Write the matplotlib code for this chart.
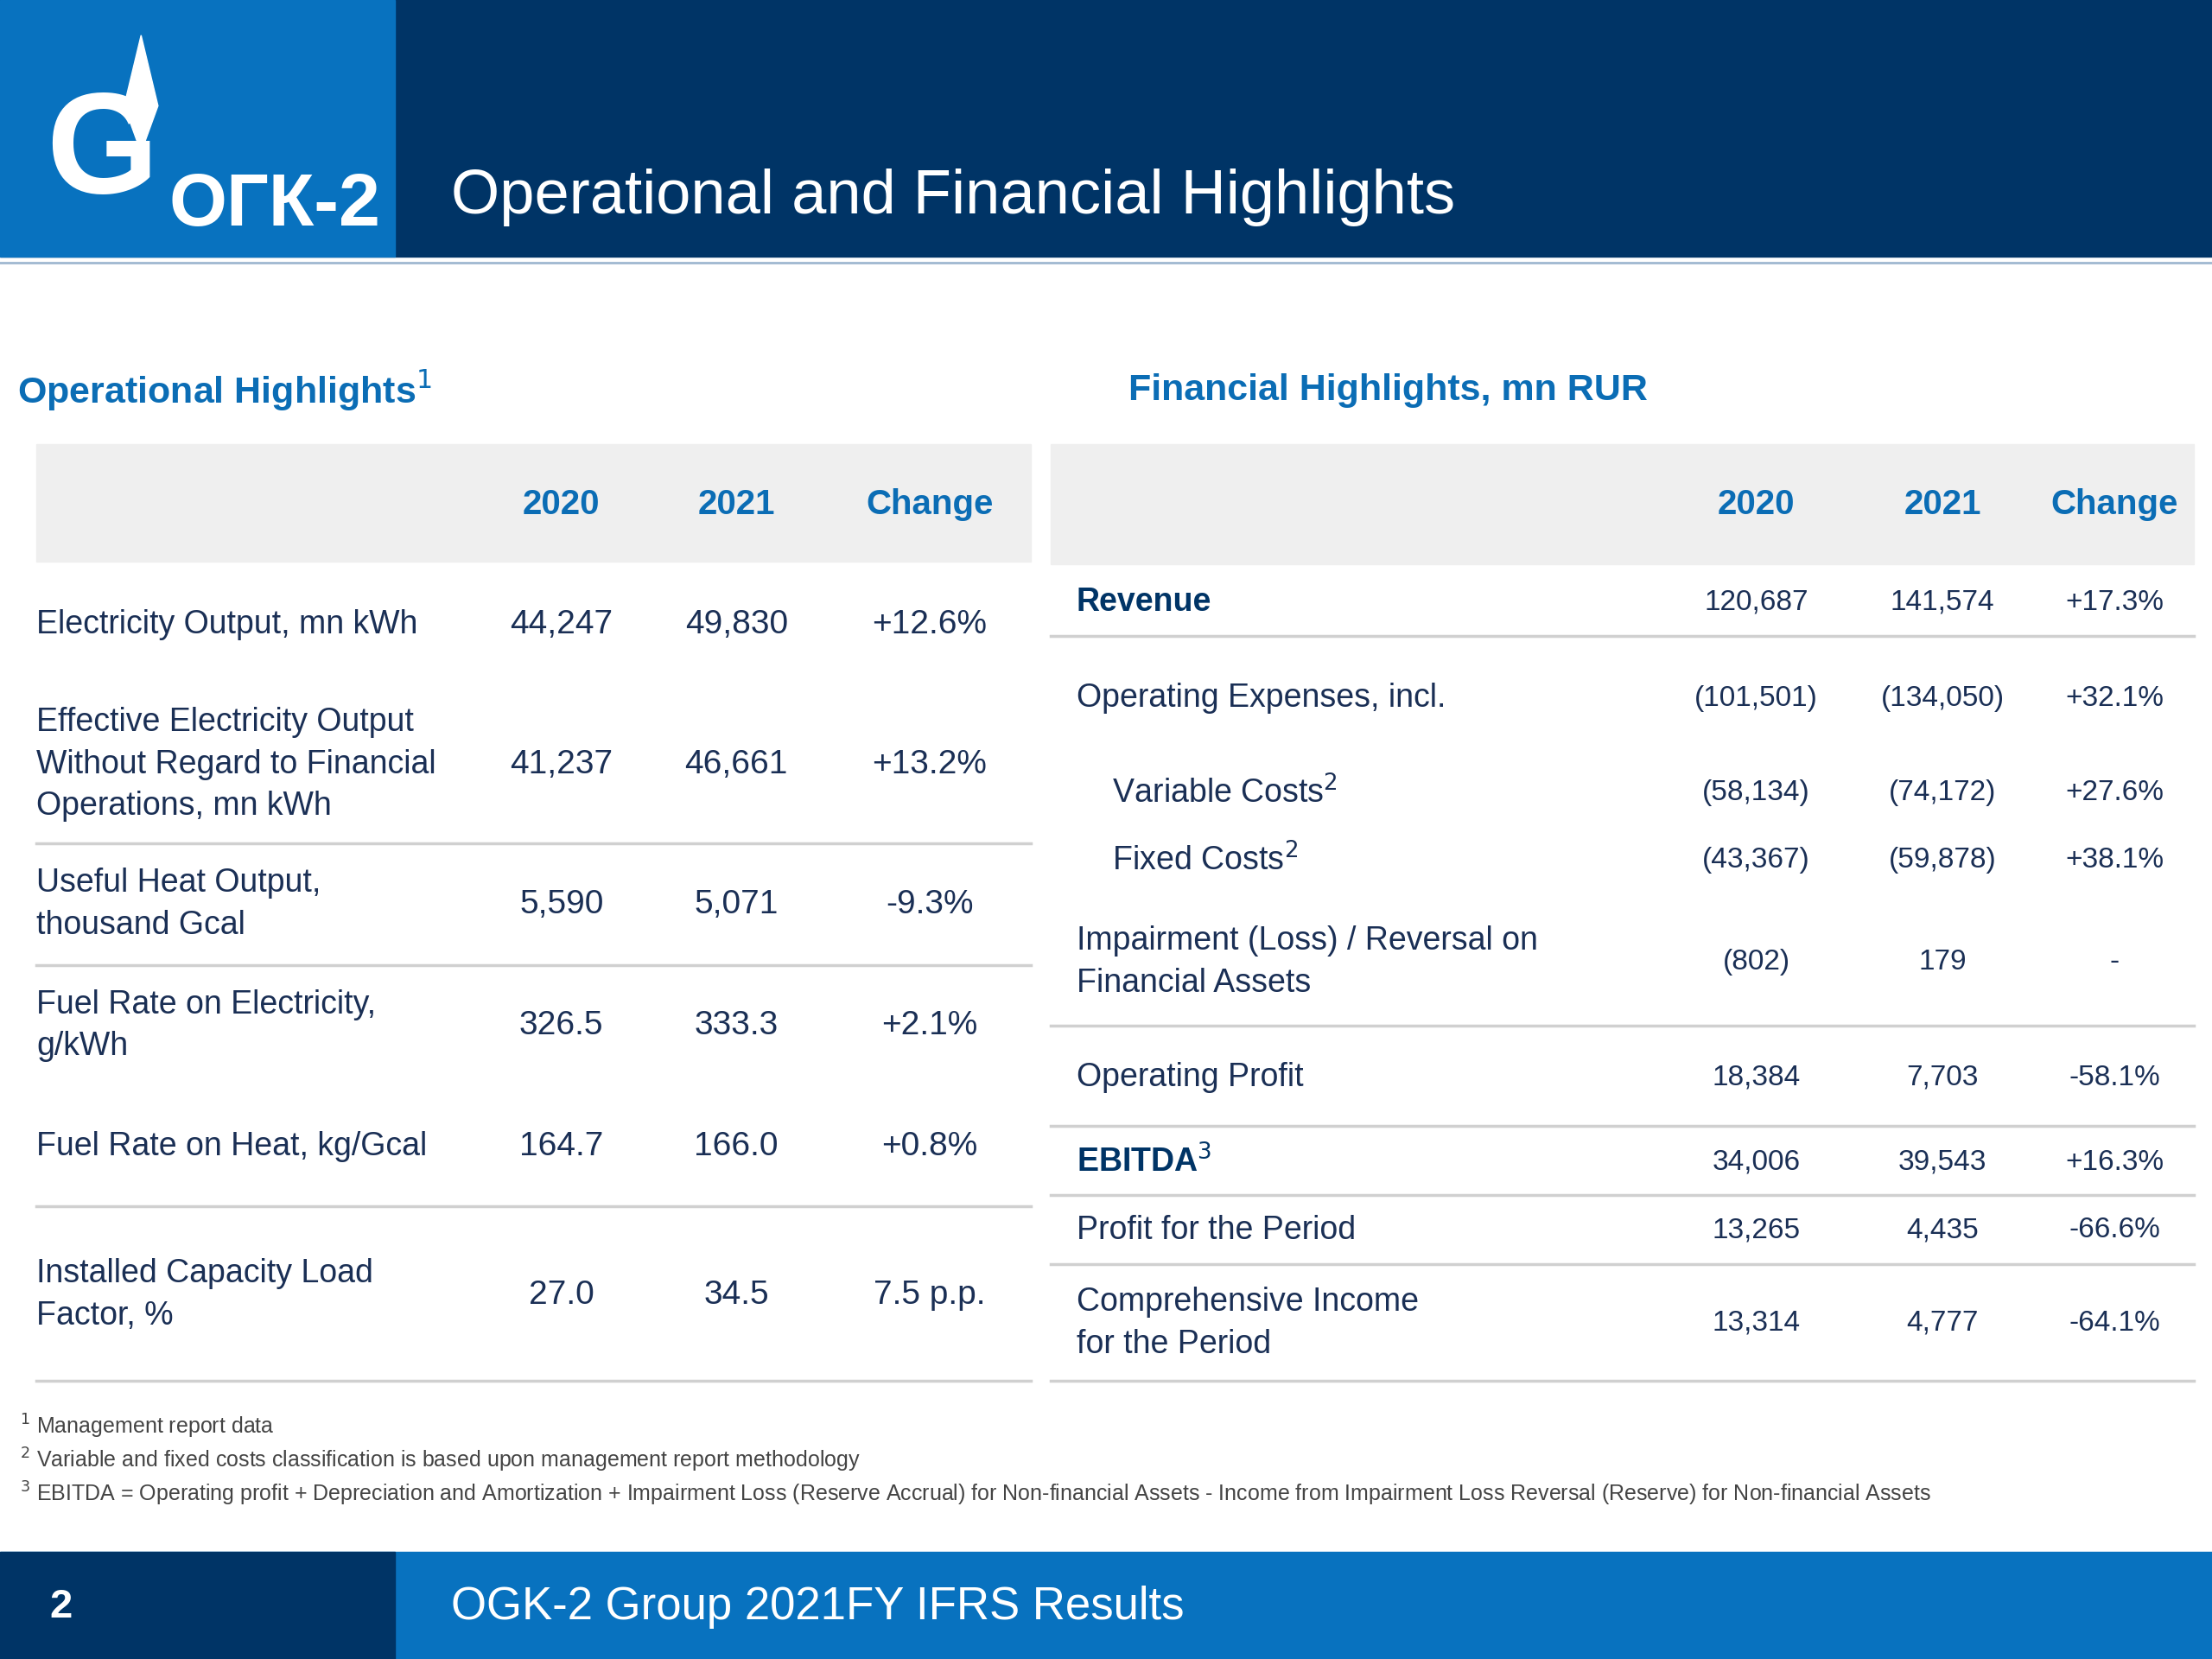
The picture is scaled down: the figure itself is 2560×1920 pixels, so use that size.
import matplotlib.pyplot as plt
from matplotlib.patches import Rectangle, Polygon

plt.rcParams['font.family'] = ['Liberation Sans Narrow', 'Liberation Sans', 'DejaVu Sans']

NAVY = '#003466'
BLUE = '#0872bf'
HEAD = '#0b6db5'
TXT = '#1a2f55'
GRID = '#d0d0d0'

years = ['2020', '2021', 'Change']

op_labels = ['Electricity Output, mn kWh',
             'Effective Electricity Output\nWithout Regard to Financial\nOperations, mn kWh',
             'Useful Heat Output,\nthousand Gcal',
             'Fuel Rate on Electricity,\ng/kWh',
             'Fuel Rate on Heat, kg/Gcal',
             'Installed Capacity Load\nFactor, %']
op_2020 = ['44,247', '41,237', '5,590', '326.5', '164.7', '27.0']
op_2021 = ['49,830', '46,661', '5,071', '333.3', '166.0', '34.5']
op_chg = ['+12.6%', '+13.2%', '-9.3%', '+2.1%', '+0.8%', '7.5 p.p.']
op_y = [443, 542, 641, 727, 813, 918]
op_lines = [598, 684, 855, 979]

fin_labels = ['Revenue', 'Operating Expenses, incl.', '    Variable Costs$^2$', '    Fixed Costs$^2$',
              'Impairment (Loss) / Reversal on\nFinancial Assets', 'Operating Profit',
              'EBITDA$^3$', 'Profit for the Period', 'Comprehensive Income\nfor the Period']
fin_bold = [True, False, False, False, False, False, True, False, False]
fin_2020 = ['120,687', '(101,501)', '(58,134)', '(43,367)', '(802)', '18,384', '34,006', '13,265', '13,314']
fin_2021 = ['141,574', '(134,050)', '(74,172)', '(59,878)', '179', '7,703', '39,543', '4,435', '4,777']
fin_chg = ['+17.3%', '+32.1%', '+27.6%', '+38.1%', '-', '-58.1%', '+16.3%', '-66.6%', '-64.1%']
fin_y = [427, 495, 562, 610, 682, 764, 824, 872, 938]
fin_lines = [451, 727, 798, 847, 896, 979]

footnotes = ['$^1$ Management report data',
             '$^2$ Variable and fixed costs classification is based upon management report methodology',
             '$^3$ EBITDA = Operating profit + Depreciation and Amortization + Impairment Loss (Reserve Accrual) for Non-financial Assets - Income from Impairment Loss Reversal (Reserve) for Non-financial Assets']

fig = plt.figure(figsize=(25.6, 19.2), dpi=100)
ax = fig.add_axes([0, 0, 1, 1])
ax.set_xlim(0, 1568)
ax.set_ylim(1176, 0)
ax.axis('off')

# header
ax.add_patch(Rectangle((0, 0), 1568, 182, color=NAVY))
ax.add_patch(Rectangle((0, 0), 280, 182, color=BLUE))
ax.plot([0, 1568], [186, 186], color='#9fb8d0', lw=2)
ax.text(120, 160, 'ОГК-2', color='white', fontsize=62, fontweight='bold', va='baseline')
ax.text(72, 110, 'G', color='white', fontsize=120, fontweight='bold', ha='center', va='center')
ax.add_patch(Polygon([[100, 25], [88, 75], [100, 108], [112, 75]], color='white'))
ax.text(320, 140, 'Operational and Financial Highlights', color='white', fontsize=52, va='center')

# footer
ax.add_patch(Rectangle((0, 1100), 1568, 76, color=BLUE))
ax.add_patch(Rectangle((0, 1100), 280, 76, color=NAVY))
ax.text(35, 1139, '2', color='white', fontsize=34, fontweight='bold', va='center')
ax.text(320, 1139, 'OGK-2 Group 2021FY IFRS Results', color='white', fontsize=38, va='center')

# section titles
ax.text(12, 277, 'Operational Highlights$^1$', color=HEAD, fontsize=31, fontweight='bold', va='center')
ax.text(800, 277, 'Financial Highlights, mn RUR', color=HEAD, fontsize=31, fontweight='bold', va='center')

# left table
ax.add_patch(Rectangle((26, 315), 705, 83, color='#efefef'))
for cx, t in zip([398, 522, 659], years):
    ax.text(cx, 358, t, color=HEAD, fontsize=29, fontweight='bold', ha='center', va='center')
for y in op_lines:
    ax.plot([26, 731], [y, y], color=GRID, lw=2.5)
for lab, a, b, c, y in zip(op_labels, op_2020, op_2021, op_chg, op_y):
    ax.text(26, y, lab, color=TXT, fontsize=27, va='center', linespacing=1.45)
    for cx, t in zip([398, 522, 659], [a, b, c]):
        ax.text(cx, y, t, color=TXT, fontsize=28, ha='center', va='center')

# right table
ax.add_patch(Rectangle((745, 315), 810, 85, color='#efefef'))
for cx, t in zip([1245, 1377, 1499], years):
    ax.text(cx, 358, t, color=HEAD, fontsize=29, fontweight='bold', ha='center', va='center')
for y in fin_lines:
    ax.plot([745, 1555], [y, y], color=GRID, lw=2.5)
for lab, bold, a, b, c, y in zip(fin_labels, fin_bold, fin_2020, fin_2021, fin_chg, fin_y):
    ax.text(763, y, lab, color=NAVY if bold else TXT, fontsize=27,
            fontweight='bold' if bold else 'normal', va='center', linespacing=1.45)
    for cx, t in zip([1245, 1377, 1499], [a, b, c]):
        ax.text(cx, y, t, color=TXT, fontsize=24, ha='center', va='center')

for i, f in enumerate(footnotes):
    ax.text(14, 1011 + i * 24, f, color='#444444', fontsize=18, va='center')

fig.savefig('out.png', dpi=100)
